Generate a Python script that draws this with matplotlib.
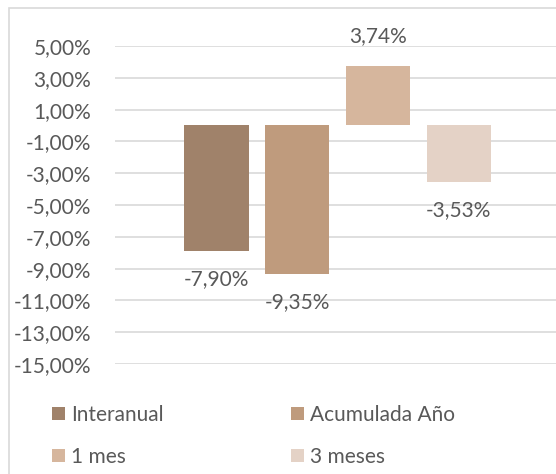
import numpy as np
import matplotlib.pyplot as plt
from matplotlib.patches import Rectangle

series = ['Interanual', 'Acumulada Año', '1 mes', '3 meses']
values = [-7.90, -9.35, 3.74, -3.53]
colors = ['#A0826A', '#BF9B7D', '#D6B69D', '#E4D2C6']
yticks = np.arange(-15, 6, 2)

plt.rcParams['font.family'] = ['Lato', 'DejaVu Sans']
txt = '#595959'
fs = 15

W, H = 556, 474
fig = plt.figure(figsize=(W / 100, H / 100), dpi=100)
ax = fig.add_axes([115 / W, (H - 364) / H, (W - 115) / W, (364 - 46) / H])

x = np.arange(len(series))
bars = ax.bar(x, values, width=0.8, color=colors, label=series, zorder=2)

ax.set_xlim(-1.25, 4.2)
ax.set_ylim(-15, 5)
ax.set_yticks(yticks)
ax.set_yticklabels([f'{v:.2f}%'.replace('.', ',') for v in yticks], color=txt, fontsize=fs)
ax.tick_params(axis='y', length=0, pad=17)
ax.set_xticks([])
ax.grid(axis='y', color='#d9d9d9', lw=1.2, zorder=0)
for s in ax.spines.values():
    s.set_visible(False)

# etiquetas de datos
for xi, v in zip(x, values):
    off = 14 if v > 0 else -13
    ax.annotate(f'{v:.2f}%'.replace('.', ','), (xi, v), xytext=(0, off),
                textcoords='offset points', ha='center',
                va='bottom' if v > 0 else 'top', color=txt, fontsize=fs)

# la leyenda se llena por filas
order = [0, 2, 1, 3]
fig.legend(handles=[bars.patches[i] for i in order], labels=[series[i] for i in order],
           ncol=2, loc='upper left',
           bbox_to_anchor=(33 / W, 1 - 386 / H), frameon=False,
           handlelength=0.62, handleheight=0.62, handletextpad=0.3,
           columnspacing=6.1, labelspacing=1.05, fontsize=fs, labelcolor=txt)

# borde del gráfico
fig.add_artist(Rectangle((9 / W, -0.1), 1.2, 1 - 8 / H + 0.1, transform=fig.transFigure,
                         fill=False, ec='#d9d9d9', lw=1.2))

fig.savefig('out.png', dpi=100)
